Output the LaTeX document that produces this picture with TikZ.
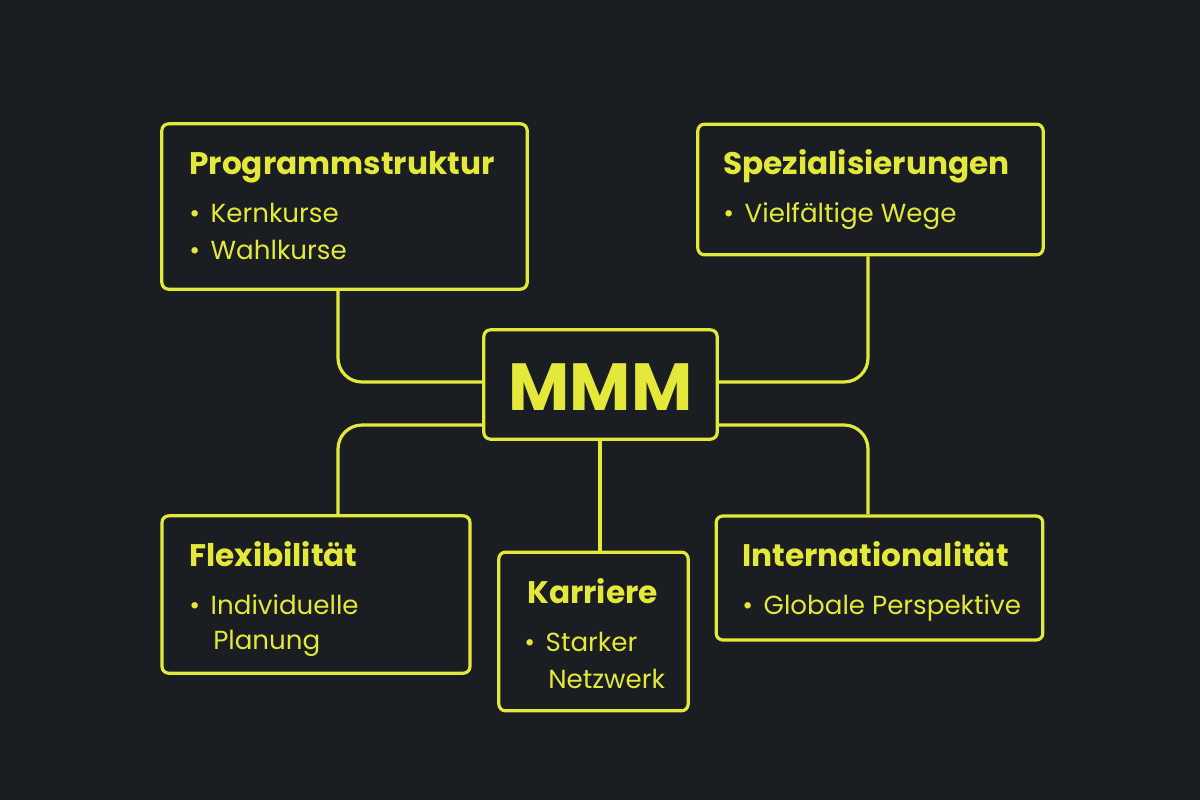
\documentclass[tikz,border=0pt]{standalone}
\usepackage{fontspec}
\setmainfont{Poppins}
\definecolor{bg}{HTML}{1A1D21}
\definecolor{yel}{HTML}{E3E83A}
\begin{document}
\begin{tikzpicture}[x=0.75pt,y=-0.75pt,
  box/.style={draw=yel,line width=2.4pt,rounded corners=5pt,inner sep=0pt},
  conn/.style={draw=yel,line width=2.4pt,rounded corners=18pt},
  ttl/.style={text=yel,anchor=base west,font=\fontsize{23.4}{27}\selectfont\bfseries,inner sep=0pt},
  itm/.style={text=yel,anchor=base west,font=\fontsize{19.6}{23}\selectfont,inner sep=0pt}]
\fill[bg] (0,0) rectangle (1200,800);
\useasboundingbox (0,0) rectangle (1200,800);
\node[box,minimum width=274pt,minimum height=124pt] (ps) at (344.5,206.5) {};
\node[box,minimum width=259pt,minimum height=98pt] (sp) at (870.5,189.5) {};
\node[box,minimum width=175pt,minimum height=82pt] (mm) at (600.5,384.5) {};
\node[box,minimum width=231pt,minimum height=118pt] (fl) at (316,594.5) {};
\node[box,minimum width=142pt,minimum height=119pt] (ka) at (593.5,631.5) {};
\node[box,minimum width=245pt,minimum height=93pt] (in) at (879.5,578) {};
\node[text=yel,font=\fontsize{50}{54}\selectfont\bfseries,inner sep=0pt] (mt) at (600.5,387) {MMM};
\newcommand{\bul}{•\hspace{8pt}}
\node[ttl] (t1) at (189,174) {Programmstruktur};
\node[itm] (a1) at (189,222) {\bul Kernkurse};
\node[itm] (a2) at (189,259) {\bul Wahlkurse};
\node[ttl] (t2) at (723,174) {Spezialisierungen};
\node[itm] (b1) at (723,222) {\bul Vielfältige Wege};
\node[ttl] (t3) at (189,566) {Flexibilität};
\node[itm] (c1) at (189,614) {\bul Individuelle};
\node[itm] (c2) at (213,649) {Planung};
\node[ttl] (t4) at (527,603) {Karriere};
\node[itm] (d1) at (524,651) {\bul Starker};
\node[itm] (d2) at (548,688) {Netzwerk};
\node[ttl] (t5) at (742,566) {Internationalität};
\node[itm] (e1) at (742,614) {\bul Globale Perspektive};
\draw[conn] (ps.south -| 338,0) |- (mm.west |- 0,382);
\draw[conn] (sp.south -| 868,0) |- (mm.east |- 0,382);
\draw[conn] (mm.west |- 0,425) -| (fl.north -| 338,0);
\draw[conn] (mm.east |- 0,425) -| (in.north -| 868,0);
\draw[conn] (mm.south -| 600,0) -- (ka.north -| 600,0);
\end{tikzpicture}
\end{document}
